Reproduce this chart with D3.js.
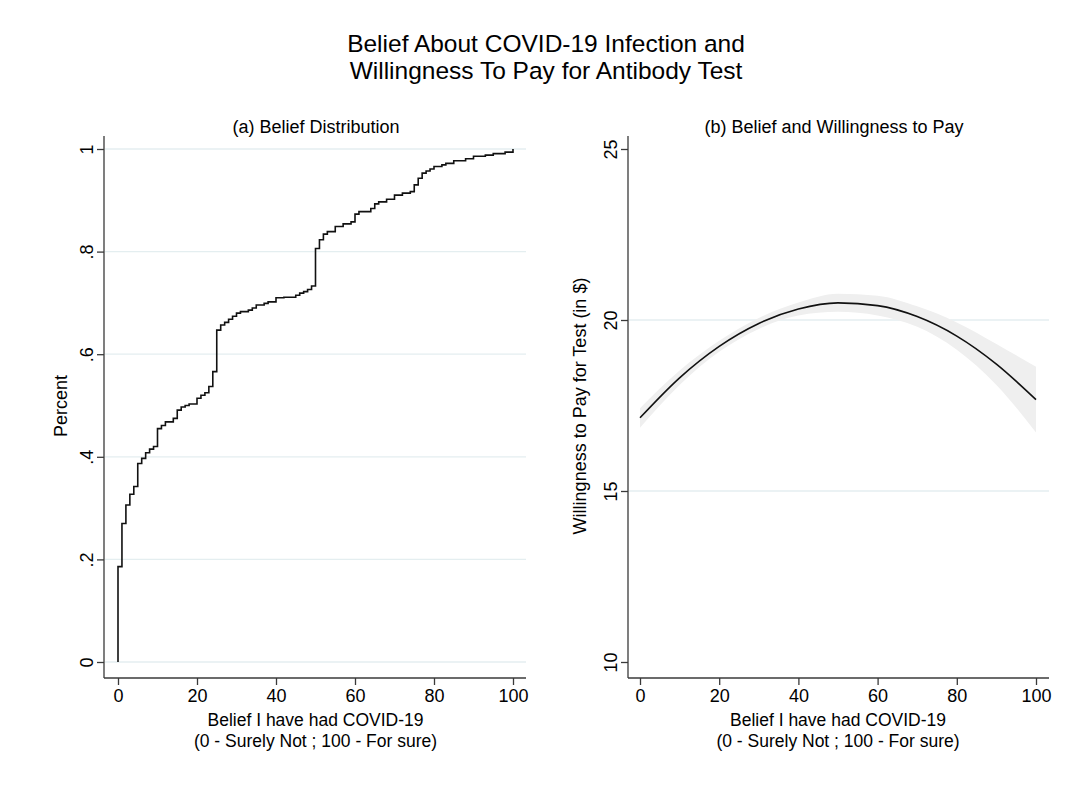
<!DOCTYPE html>
<html>
<head>
<meta charset="utf-8">
<script src="https://cdn.jsdelivr.net/npm/d3@7"></script>
<style>
html,body{margin:0;padding:0;background:#fff;}
svg{display:block;font-family:"Liberation Sans",Arial,Helvetica,sans-serif;}
</style>
</head>
<body>
<svg id="chart" width="1075" height="788"></svg>
<script>
// ---- Data ----
const titleLines = ["Belief About COVID-19 Infection and", "Willingness To Pay for Antibody Test"];
const panelTitles = ["(a) Belief Distribution", "(b) Belief and Willingness to Pay"];
const xTitleLines = ["Belief I have had COVID-19", "(0 - Surely Not ; 100 - For sure)"];
const leftYTitle = "Percent";
const rightYTitle = "Willingness to Pay for Test (in $)";

const xTicks = [0, 20, 40, 60, 80, 100];
const leftYTicks = [0, 0.2, 0.4, 0.6, 0.8, 1];
const leftYTickLabels = ["0", ".2", ".4", ".6", ".8", "1"];
const rightYTicks = [10, 15, 20, 25];
const rightGridTicks = [15, 20];

// Empirical cumulative distribution (belief value, cumulative share)
const cdfBelief = [0,0,1,2,3,4,5,6,7,8,9,10,11,12,14,15,16,17,18,20,21,22,23,24,25,26,27,28,29,30,31,33,34,35,37,38,40,42,45,46,47,48,49,50,51,52,53,55,57,59,60,61,64,65,66,68,70,72,74,75,76,77,78,79,80,82,83,85,88,90,93,95,98,100];
const cdfShare  = [0,0.186,0.270,0.306,0.327,0.342,0.387,0.397,0.408,0.415,0.420,0.455,0.461,0.468,0.475,0.491,0.497,0.500,0.503,0.514,0.520,0.525,0.537,0.566,0.647,0.657,0.662,0.668,0.674,0.680,0.683,0.686,0.690,0.696,0.699,0.702,0.710,0.711,0.715,0.719,0.722,0.726,0.733,0.806,0.823,0.834,0.839,0.849,0.854,0.858,0.873,0.878,0.884,0.893,0.897,0.902,0.910,0.914,0.917,0.930,0.943,0.953,0.957,0.961,0.966,0.969,0.972,0.977,0.981,0.986,0.988,0.991,0.994,1.0];

// Quadratic fit with confidence band
const fitBelief = [0, 10, 20, 30, 40, 50, 60, 70, 80, 90, 100];
const fitWTP    = [17.14, 18.31, 19.23, 19.90, 20.32, 20.50, 20.42, 20.10, 19.53, 18.71, 17.67];
const fitLower  = [16.85, 18.10, 19.07, 19.74, 20.13, 20.24, 20.13, 19.80, 19.13, 18.10, 16.71];
const fitUpper  = [17.42, 18.52, 19.39, 20.06, 20.51, 20.77, 20.71, 20.40, 19.93, 19.30, 18.63];

// ---- Drawing ----
const svg = d3.select("#chart");
const axisColor = "#3a3a3a";
const gridColor = "#e4eef0";
const fontTick = 18;
const fontLabel = 17.5;

svg.append("rect").attr("x",0).attr("y",0).attr("width",1075).attr("height",788).attr("fill","#fff");

// Title
svg.append("g").selectAll("text").data(titleLines).join("text")
  .attr("x", 546).attr("y", (d,i)=> 52 + i*27)
  .attr("text-anchor","middle").attr("font-size", 24.5).attr("fill","#000")
  .text(d=>d);

function panel(cfg){
  const g = svg.append("g");
  const x = d3.scaleLinear().domain([0,100]).range([cfg.x0, cfg.x1]);
  const y = d3.scaleLinear().domain(cfg.yDomain).range([662, 149]);

  // gridlines
  g.append("g").selectAll("line").data(cfg.grid).join("line")
    .attr("x1", cfg.axisX + 1).attr("x2", cfg.gridEnd)
    .attr("y1", d=>y(d)).attr("y2", d=>y(d))
    .attr("stroke", gridColor).attr("stroke-width", 1.3);

  cfg.draw(g, x, y);

  // y axis
  const ya = d3.axisLeft(y).tickValues(cfg.yTicks).tickSize(7).tickPadding(5)
    .tickFormat((d,i)=>cfg.yLabels[i]);
  const yg = g.append("g").attr("transform", `translate(${cfg.axisX},0)`).call(ya);
  yg.select(".domain").attr("d", `M0,136V${cfg.axisY}`).attr("stroke", axisColor).attr("stroke-width",1.3);
  yg.selectAll(".tick line").attr("stroke", axisColor).attr("stroke-width",1.3);
  yg.selectAll(".tick text")
    .attr("font-size", fontTick).attr("fill","#000")
    .attr("font-family", '"Liberation Sans",Arial,sans-serif')
    .attr("x", null).attr("dy", null)
    .attr("text-anchor","middle")
    .attr("transform", "translate(-11,0) rotate(-90)")
    .attr("y", 0).attr("dy","0em");

  // x axis
  const xa = d3.axisBottom(x).tickValues(xTicks).tickSize(7).tickPadding(4).tickFormat(d3.format("d"));
  const xg = g.append("g").attr("transform", `translate(0,${cfg.axisY})`).call(xa);
  xg.select(".domain").attr("d", `M${cfg.axisX},0H${cfg.gridEnd}`).attr("stroke", axisColor).attr("stroke-width",1.3);
  xg.selectAll(".tick line").attr("stroke", axisColor).attr("stroke-width",1.3);
  xg.selectAll(".tick text").attr("font-size", fontTick).attr("fill","#000")
    .attr("font-family", '"Liberation Sans",Arial,sans-serif');

  // x title
  g.append("g").selectAll("text").data(xTitleLines).join("text")
    .attr("x", (cfg.x0+cfg.x1)/2).attr("y", (d,i)=> 726 + i*21)
    .attr("text-anchor","middle").attr("font-size", fontLabel).attr("fill","#000").text(d=>d);

  // y title
  g.append("text")
    .attr("transform", `translate(${cfg.yTitleX},${cfg.yTitleY}) rotate(-90)`)
    .attr("text-anchor","middle").attr("font-size",fontLabel+0.5).attr("fill","#000").text(cfg.yTitle);

  // panel title
  g.append("text").attr("x", cfg.titleX).attr("y", 133)
    .attr("text-anchor","middle").attr("font-size",18).attr("fill","#000").text(cfg.title);
}

// Left panel
panel({
  x0: 118, x1: 513, axisX: 104, axisY: 678, gridEnd: 526,
  yDomain: [0,1], grid: leftYTicks, yTicks: leftYTicks, yLabels: leftYTickLabels,
  yTitle: leftYTitle, yTitleX: 67, yTitleY: 406,
  title: panelTitles[0], titleX: 316,
  draw: (g, x, y) => {
    const pts = cdfBelief.map((b,i)=>[b, cdfShare[i]]);
    g.append("path").datum(pts)
      .attr("d", d3.line().x(d=>x(d[0])).y(d=>y(d[1])).curve(d3.curveStepAfter))
      .attr("fill","none").attr("stroke","#111").attr("stroke-width",1.6);
  }
});

// Right panel
panel({
  x0: 640, x1: 1036, axisX: 628, axisY: 678, gridEnd: 1049,
  yDomain: [10,25], grid: rightGridTicks, yTicks: rightYTicks, yLabels: rightYTicks.map(String),
  yTitle: rightYTitle, yTitleX: 586, yTitleY: 406,
  title: panelTitles[1], titleX: 834,
  draw: (g, x, y) => {
    const band = fitBelief.map((b,i)=>({b, lo: fitLower[i], hi: fitUpper[i]}));
    g.append("path").datum(band)
      .attr("d", d3.area().x(d=>x(d.b)).y0(d=>y(d.lo)).y1(d=>y(d.hi)).curve(d3.curveMonotoneX))
      .attr("fill","#efefef").attr("stroke","none");
    const line = fitBelief.map((b,i)=>[b, fitWTP[i]]);
    g.append("path").datum(line)
      .attr("d", d3.line().x(d=>x(d[0])).y(d=>y(d[1])).curve(d3.curveMonotoneX))
      .attr("fill","none").attr("stroke","#111").attr("stroke-width",1.6);
  }
});
</script>
</body>
</html>
